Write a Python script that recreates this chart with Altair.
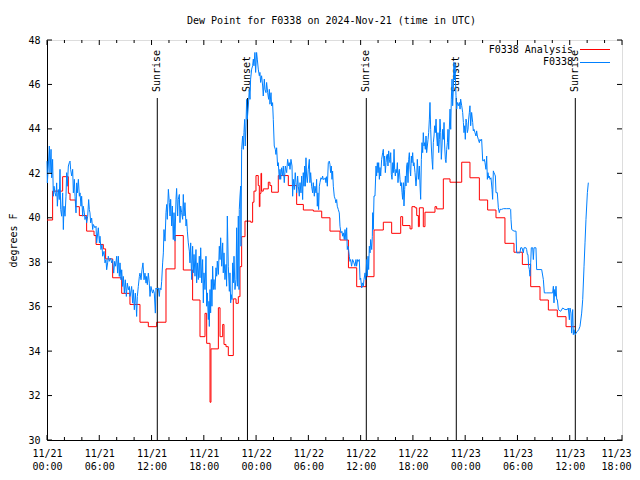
import altair as alt
import pandas as pd

# ---------------- data (dew point, degrees F) ----------------
# Times; READ_SCALE converts the
# read-off positions (taken with a 65.43-hour span) to hours since
# 2024-11-21 00:00 UTC on the reference's 66-hour axis.
READ_SCALE = 66.0 / 65.43

analysis_read = [0.00, 0.64, 1.78, 2.43, 2.62, 3.26, 3.68, 4.51, 5.35, 5.58, 6.41, 6.67, 7.47, 8.50, 9.44,
                 10.58, 11.53, 12.48, 13.54, 14.57, 15.51, 16.57, 17.41, 17.98, 18.17, 18.55, 18.66, 19.50,
                 19.69, 19.99, 20.14, 20.37, 20.63, 21.20, 21.51, 21.77, 21.96, 22.15, 22.53, 23.18, 23.40,
                 23.55, 23.78, 24.04, 24.16, 24.23, 24.35, 24.42, 24.61, 25.18, 25.37, 25.56, 26.32, 27.46,
                 28.41, 29.17, 30.31, 31.26, 32.20, 33.34, 34.30, 35.24, 36.30, 37.21, 38.27, 39.22, 40.25,
                 40.47, 41.31, 41.53, 41.88, 42.07, 42.26, 42.37, 42.82, 43.01, 44.15, 44.34, 45.10, 45.86,
                 46.62, 47.19, 48.13, 49.20, 50.14, 51.09, 52.11, 53.14, 54.09, 55.04, 56.10, 57.05, 58.07,
                 59.06, 60.12]
analysis_values = [39.9, 41.2, 41.85, 41.1, 40.8, 40.5, 40.1, 39.4, 39.2, 38.8, 38.6, 38.15, 37.3, 36.6, 36.1,
                   35.3, 35.1, 35.3, 37.7, 39.2, 37.65, 36.3, 34.65, 35.7, 34.35, 31.7, 34.1, 35.95,
                   34.65, 35.2, 34.3, 34.2, 33.8, 36.35, 36.15, 36.45, 37.8, 39.15, 39.85, 39.8, 40.7,
                   41.2, 41.9, 41.45, 40.5, 41.1, 42.0, 41.2, 41.3, 41.6, 41.45, 41.15, 41.9, 41.45,
                   40.6, 40.35, 40.3, 40.0, 39.4, 39.0, 37.75, 36.9, 37.35, 39.45, 39.8, 39.3, 40.05,
                   39.65, 39.5, 40.5, 40.45, 40.1, 39.6, 40.45, 39.6, 40.25, 40.5, 40.4, 41.75, 41.6,
                   41.6, 42.5, 41.8, 40.8, 40.35, 40.0, 38.85, 38.45, 37.9, 36.9, 36.3, 35.85, 35.55,
                   35.1, 35.1]

obs_points = [
    (0.00, 42.55), (0.04, 41.57), (0.15, 42.33), (0.27, 43.23), (0.34, 42.03), (0.46, 43.08), (0.53, 41.80),
    (0.64, 42.63), (0.72, 40.97), (0.80, 41.42), (0.91, 41.12), (1.02, 40.97), (1.10, 41.57), (1.18, 40.52),
    (1.29, 41.27), (1.40, 40.82), (1.48, 42.18), (1.56, 40.37), (1.67, 40.07), (1.78, 41.12), (1.86, 39.47),
    (1.93, 40.52), (2.05, 40.07), (2.16, 40.97), (2.24, 42.03), (2.31, 41.42), (2.43, 42.33), (2.54, 42.48),
    (2.62, 42.55), (2.69, 42.18), (2.81, 41.88), (2.92, 42.18), (3.00, 41.12), (3.11, 41.73), (3.19, 40.97),
    (3.30, 40.22), (3.38, 41.57), (3.45, 41.12), (3.57, 41.73), (3.68, 40.97), (3.76, 41.12), (3.87, 40.52),
    (3.94, 40.97), (4.06, 40.07), (4.13, 40.52), (4.25, 40.22), (4.32, 39.92), (4.44, 40.07), (4.51, 39.77),
    (4.63, 40.07), (4.74, 40.82), (4.82, 40.37), (4.89, 40.22), (4.97, 39.77), (5.08, 39.99), (5.20, 39.47),
    (5.27, 39.70), (5.46, 39.55), (5.58, 39.62), (5.65, 38.87), (5.84, 39.55), (5.96, 38.87), (6.03, 39.17),
    (6.14, 38.57), (6.26, 38.79), (6.33, 38.27), (6.49, 38.49), (6.60, 37.97), (6.71, 38.12), (6.79, 37.66),
    (6.90, 37.97), (6.98, 38.27), (7.09, 38.04), (7.24, 38.19), (7.36, 37.97), (7.47, 38.12), (7.59, 37.51),
    (7.70, 38.04), (7.81, 37.82), (7.93, 38.27), (8.04, 37.51), (8.12, 38.27), (8.23, 37.36), (8.31, 37.97),
    (8.42, 37.21), (8.50, 37.66), (8.61, 36.91), (8.69, 37.36), (8.80, 36.61), (8.91, 37.21), (9.03, 36.46),
    (9.14, 37.06), (9.26, 36.76), (9.37, 36.91), (9.44, 36.46), (9.52, 36.61), (9.63, 36.91), (9.75, 36.16),
    (9.82, 36.76), (9.94, 35.86), (10.05, 36.61), (10.13, 36.16), (10.20, 35.56), (10.28, 36.46), (10.39, 36.91),
    (10.51, 37.36), (10.58, 37.51), (10.70, 37.21), (10.81, 37.66), (10.92, 37.97), (11.04, 37.21), (11.15, 37.51),
    (11.27, 37.06), (11.34, 37.36), (11.42, 36.99), (11.53, 37.51), (11.64, 37.06), (11.72, 36.46), (11.83, 36.91),
    (11.95, 36.69), (12.02, 36.61), (12.10, 36.76), (12.21, 36.61), (12.33, 35.71), (12.40, 36.84), (12.48, 36.79),
    (12.67, 36.84), (12.78, 36.46), (12.86, 36.84), (12.97, 36.76),
    (13.05, 37.14), (13.16, 37.97), (13.24, 38.42), (13.31, 39.47), (13.43, 38.95), (13.54, 40.23), (13.62, 40.60),
    (13.69, 39.93), (13.81, 41.28), (13.92, 40.68), (14.00, 40.08), (14.07, 40.83), (14.19, 39.63), (14.26, 40.53),
    (14.37, 39.02), (14.45, 40.23), (14.56, 38.95), (14.68, 40.83), (14.75, 41.32), (14.87, 40.08), (14.94, 40.83),
    (15.06, 41.05), (15.13, 39.78), (15.21, 40.53), (15.32, 40.23), (15.44, 39.93), (15.51, 41.05), (15.59, 40.08),
    (15.70, 40.68), (15.82, 39.63), (15.89, 39.93), (15.97, 39.40), (16.08, 38.87), (16.20, 38.50), (16.27, 37.97),
    (16.35, 38.87), (16.46, 37.22), (16.57, 38.72), (16.65, 37.52), (16.73, 38.35), (16.84, 37.37), (16.95, 38.57),
    (17.03, 37.07), (17.11, 37.97), (17.22, 37.22), (17.33, 38.27), (17.41, 37.30), (17.49, 38.65), (17.60, 37.07),
    (17.71, 38.12), (17.79, 36.17), (17.86, 37.52), (17.98, 36.77), (18.09, 38.27), (18.17, 36.02), (18.24, 36.62),
    (18.36, 35.42), (18.43, 36.24), (18.47, 35.11), (18.55, 36.77), (18.62, 35.72), (18.70, 37.22), (18.77, 36.02),
    (18.85, 37.82), (18.93, 36.77), (19.00, 37.22), (19.12, 36.77), (19.23, 37.75), (19.31, 37.37), (19.38, 38.05),
    (19.50, 37.45), (19.61, 38.72), (19.69, 38.12), (19.76, 39.10), (19.88, 37.82), (19.99, 38.87), (20.06, 37.52),
    (20.14, 38.42), (20.25, 37.22), (20.37, 37.90), (20.44, 36.92), (20.52, 40.08), (20.63, 37.82), (20.75, 36.69),
    (20.82, 37.52), (20.90, 36.17), (20.97, 36.54), (21.05, 36.32), (21.13, 37.97), (21.20, 37.07), (21.28, 38.27),
    (21.39, 36.77), (21.51, 37.22), (21.58, 39.55), (21.66, 36.92), (21.77, 40.08), (21.85, 36.77), (21.88, 40.38),
    (21.96, 40.98), (22.04, 41.43),
    (22.07, 38.72), (22.15, 43.08), (22.26, 43.68), (22.34, 43.08), (22.41, 43.83), (22.49, 44.43), (22.56, 43.23),
    (22.64, 44.13), (22.72, 45.33), (22.79, 44.43), (22.91, 45.03), (23.02, 45.78), (23.10, 45.33), (23.17, 46.24),
    (23.29, 46.69), (23.40, 46.84), (23.48, 47.14), (23.55, 46.84), (23.66, 47.44), (23.74, 46.54), (23.85, 47.44),
    (23.93, 47.14), (24.04, 46.69), (24.16, 46.39), (24.23, 46.54), (24.31, 46.09), (24.42, 46.39), (24.54, 45.93),
    (24.61, 45.48), (24.73, 46.24), (24.80, 45.78), (24.92, 45.63), (24.99, 46.09), (25.11, 45.63), (25.22, 45.33),
    (25.30, 45.78), (25.37, 45.11), (25.49, 45.63), (25.56, 45.03), (25.67, 45.18), (25.75, 44.43), (25.86, 43.23),
    (25.98, 43.08), (26.05, 42.85), (26.13, 43.15), (26.24, 42.33), (26.32, 42.48), (26.43, 41.73), (26.51, 42.18),
    (26.59, 41.73), (26.70, 42.25), (26.81, 41.88), (26.89, 42.33), (27.00, 41.58), (27.12, 42.33), (27.27, 42.03),
    (27.38, 42.63), (27.50, 42.33), (27.57, 42.48), (27.65, 42.18), (27.76, 42.63), (27.88, 42.33), (27.95, 40.97),
    (28.03, 41.73), (28.14, 41.27), (28.25, 42.03), (28.33, 41.58), (28.41, 41.12), (28.52, 41.88), (28.60, 41.42),
    (28.71, 40.97), (28.79, 41.58), (28.90, 41.12), (28.98, 41.88), (29.09, 40.82), (29.16, 42.03), (29.24, 41.42),
    (29.32, 42.33), (29.39, 41.42), (29.47, 42.70), (29.54, 41.88), (29.62, 41.58), (29.73, 42.18), (29.85, 42.63),
    (29.92, 41.58), (30.00, 42.03), (30.11, 41.42), (30.23, 41.12), (30.30, 41.58), (30.42, 40.97), (30.49, 41.42),
    (30.61, 41.12), (30.68, 41.73), (30.76, 40.52), (30.83, 41.12), (30.91, 40.37), (30.99, 41.42), (31.06, 41.58),
    (31.17, 41.80), (31.29, 41.73), (31.36, 41.88), (31.44, 41.73), (31.55, 41.73), (31.67, 41.80), (31.74, 41.58),
    (31.82, 41.85), (31.90, 41.42), (32.01, 42.48), (32.12, 42.55), (32.20, 42.40), (32.27, 42.03), (32.35, 42.33),
    (32.43, 41.73), (32.50, 42.10), (32.58, 41.42), (32.69, 40.97), (32.81, 40.82), (32.88, 40.67), (32.96, 40.82),
    (33.03, 40.52), (33.15, 40.37), (33.26, 40.22), (33.34, 39.62), (33.45, 39.32), (33.56, 39.39), (33.64, 39.17),
    (33.72, 39.32), (33.83, 39.02), (33.91, 39.47), (34.02, 39.02), (34.10, 39.55), (34.17, 38.57), (34.25, 38.72),
    (34.32, 38.57), (34.40, 38.27), (34.47, 38.04), (34.55, 38.12), (34.66, 37.82), (34.78, 38.12), (34.93, 37.97),
    (35.04, 37.82), (35.16, 38.12), (35.23, 37.82), (35.35, 38.12), (35.42, 38.04), (35.54, 38.12),
    (35.62, 37.22), (35.69, 37.29), (35.81, 36.84), (35.88, 37.07), (36.00, 36.92), (36.07, 37.22), (36.19, 37.52),
    (36.26, 37.22), (36.38, 38.12), (36.45, 37.37), (36.53, 38.27), (36.60, 37.67), (36.68, 38.72), (36.76, 38.42),
    (36.83, 39.02), (36.95, 38.57), (37.02, 39.17), (37.06, 40.23), (37.13, 39.47), (37.21, 40.98), (37.32, 40.98),
    (37.44, 42.33), (37.51, 41.88), (37.59, 42.48), (37.67, 42.03), (37.74, 42.48), (37.82, 41.73), (37.89, 42.26),
    (37.97, 41.88), (38.08, 42.63), (38.20, 42.93), (38.27, 43.08), (38.35, 42.33), (38.42, 42.78), (38.50, 42.03),
    (38.58, 42.48), (38.65, 42.78), (38.73, 42.86), (38.80, 42.33), (38.88, 43.01), (38.96, 42.63), (39.03, 42.48),
    (39.11, 42.93), (39.18, 41.96), (39.26, 41.73), (39.34, 42.48), (39.41, 42.03), (39.49, 43.08), (39.56, 42.18),
    (39.64, 41.88), (39.71, 42.18), (39.79, 42.03), (39.87, 42.48), (39.94, 41.58), (40.02, 42.03), (40.09, 42.18),
    (40.17, 41.73), (40.25, 41.43), (40.32, 41.58), (40.40, 41.13), (40.47, 40.83), (40.55, 41.58), (40.62, 40.53),
    (40.70, 41.28), (40.78, 41.88), (40.85, 41.43), (40.93, 42.33), (41.00, 42.48), (41.08, 41.58), (41.16, 42.63),
    (41.23, 42.93), (41.31, 42.18), (41.38, 41.88), (41.46, 42.78), (41.53, 42.48), (41.61, 42.93), (41.69, 42.33),
    (41.76, 42.48), (41.88, 42.03), (41.99, 41.43), (42.07, 41.88), (42.14, 42.63), (42.26, 41.73), (42.37, 42.33),
    (42.45, 41.43), (42.52, 40.83), (42.60, 42.63), (42.67, 43.38), (42.75, 42.93), (42.82, 43.83), (42.90, 43.23),
    (42.98, 43.38), (43.05, 43.08), (43.13, 43.68), (43.20, 42.93), (43.28, 43.23), (43.36, 43.53), (43.43, 43.83),
    (43.51, 44.44), (43.58, 45.19), (43.66, 43.98), (43.73, 43.23), (43.81, 42.63), (43.89, 42.18), (43.96, 43.38),
    (44.04, 43.68), (44.11, 44.14), (44.19, 43.83), (44.27, 44.44), (44.34, 43.68), (44.42, 43.23), (44.49, 43.83),
    (44.57, 42.93), (44.65, 43.53), (44.72, 44.44), (44.80, 43.83), (44.87, 42.63), (44.95, 43.23), (45.02, 43.98),
    (45.10, 43.53), (45.18, 44.29), (45.25, 43.23), (45.33, 42.63), (45.40, 42.48), (45.48, 43.08), (45.56, 43.38),
    (45.63, 43.98), (45.71, 43.08), (45.78, 43.98), (45.86, 44.89), (45.94, 43.98), (46.01, 45.34), (46.09, 46.24),
    (46.16, 45.04), (46.24, 45.79), (46.31, 47.00), (46.37, 46.20), (46.43, 46.90), (46.54, 45.49),
    (46.62, 44.89), (46.69, 45.19), (46.81, 45.04), (46.92, 45.19), (47.00, 44.89), (47.07, 45.34), (47.19, 45.04),
    (47.30, 44.74), (47.38, 44.29), (47.45, 43.83), (47.53, 44.14), (47.60, 43.53), (47.68, 44.44), (47.75, 44.29),
    (47.83, 43.83), (47.91, 43.98), (47.98, 44.44), (48.06, 44.74), (48.13, 45.04), (48.21, 44.14), (48.32, 44.74),
    (48.44, 44.29), (48.51, 43.91), (48.59, 43.98), (48.70, 43.83), (48.82, 43.68), (48.89, 43.91), (48.97, 43.68),
    (49.08, 43.53), (49.20, 43.38), (49.27, 43.53), (49.35, 43.46), (49.46, 43.53), (49.58, 42.56), (49.65, 42.56),
    (49.76, 42.63), (49.84, 42.48), (49.95, 42.18), (50.03, 42.78), (50.11, 41.73), (50.18, 42.03), (50.26, 41.80),
    (50.33, 41.88), (50.41, 41.73), (50.52, 41.80), (50.64, 41.28), (50.71, 40.83), (50.79, 42.11), (50.86, 42.03),
    (50.94, 41.96), (51.02, 41.88), (51.09, 41.13), (51.24, 41.13), (51.36, 40.45), (51.47, 40.23), (51.55, 40.38),
    (51.74, 40.38), (51.93, 40.41), (52.31, 40.41), (52.69, 40.41), (52.76, 40.38), (52.80, 39.93), (52.88, 39.47),
    (53.14, 39.40), (53.37, 39.40), (53.44, 38.42), (53.63, 38.42), (53.82, 38.42), (53.90, 38.65), (54.05, 38.65),
    (54.20, 38.42), (54.28, 38.65), (54.51, 38.65), (54.58, 38.57), (54.66, 38.35), (54.73, 38.35), (54.81, 37.82),
    (54.89, 37.67), (54.96, 37.37), (55.04, 37.97), (55.11, 38.65), (55.27, 38.65), (55.34, 38.12), (55.42, 38.65),
    (55.64, 38.65), (55.72, 37.67), (56.10, 37.67), (56.29, 37.67), (56.48, 37.22), (56.59, 36.62), (56.86, 36.62),
    (57.24, 36.62), (57.54, 36.62), (57.62, 36.92), (57.69, 36.17), (57.77, 36.77), (57.84, 36.47), (57.92, 36.92),
    (58.00, 36.32), (58.07, 36.32), (58.19, 35.87), (58.45, 35.79), (58.68, 35.94), (58.94, 35.87), (59.21, 35.87),
    (59.32, 35.94), (59.44, 35.41), (59.51, 35.94), (59.63, 35.71), (59.70, 34.81), (59.82, 35.87), (59.89, 34.74),
    (59.97, 34.96), (60.04, 34.81), (60.12, 34.74), (60.20, 34.81), (60.35, 34.89), (60.50, 34.96), (60.65, 35.11),
    (60.84, 35.71), (60.96, 36.32), (61.11, 37.82), (61.22, 38.87), (61.33, 39.93), (61.49, 41.13), (61.60, 41.58),
]

analysis_hours = [h * READ_SCALE for h in analysis_read]
obs_hours = [p[0] * READ_SCALE for p in obs_points]
obs_values = [p[1] for p in obs_points]

event_hours = [12.66, 23.01, 36.65, 46.98, 60.64]
event_names = ["Sunrise", "Sunset", "Sunrise", "Sunset", "Sunrise"]

x_major = list(range(0, 67, 6))
x_minor = [h for h in range(0, 67, 2) if h % 6 != 0]
y_major = list(range(30, 49, 2))

# ---------------- chart ----------------
W, H = 575, 400
FONT = "DejaVu Sans Mono"
xs = alt.Scale(domain=[0, 66], nice=False, zero=False)
ys = alt.Scale(domain=[30, 48], nice=False, zero=False)

red_df = pd.DataFrame({"h": analysis_hours, "v": analysis_values})
blue_df = pd.DataFrame({"h": obs_hours, "v": obs_values})
ev_df = pd.DataFrame({"h": event_hours, "name": event_names})

label_expr = ("['11/' + (21 + floor(datum.value / 24)), "
              "((datum.value % 24) < 10 ? '0' : '') + (datum.value % 24) + ':00']")

x_axis = alt.Axis(values=x_major, labelExpr=label_expr, ticks=False, grid=False, title=None,
                  labelFont=FONT, labelFontSize=10, labelColor="black", labelPadding=8,
                  labelLineHeight=13.5, labelAngle=0, domainColor="black", labelFlush=False,
                  labelOverlap=False,
                  labelOffset={"condition": {"test": "datum.value >= 66", "value": -6}, "value": 0})
y_axis = alt.Axis(values=y_major, ticks=False, grid=False, title="degrees F",
                  labelFont=FONT, labelFontSize=10, labelColor="black", labelPadding=7,
                  domainColor="black", titleFont=FONT, titleFontSize=10, titleFontWeight="normal",
                  titleColor="black", titleAngle=270, titleX=-34, titleY=H / 2,
                  titleAlign="center", titleBaseline="middle", labelFlush=False)

X = alt.X("h:Q", scale=xs, axis=x_axis)
Y = alt.Y("v:Q", scale=ys, axis=y_axis)

red = alt.Chart(red_df).mark_line(color="#ff0000", strokeWidth=1, interpolate="step-after").encode(x=X, y=Y)
blue = alt.Chart(blue_df).mark_line(color="#0080ff", strokeWidth=1).encode(x=X, y=Y)

ev_rules = alt.Chart(ev_df).mark_rule(color="black", strokeWidth=1).encode(
    x=X, y=alt.value(58), y2=alt.value(H))
ev_text = alt.Chart(ev_df).mark_text(angle=270, align="left", baseline="middle", font=FONT,
                                     fontSize=10, color="black").encode(
    x=X, y=alt.value(52), text="name:N")

xmaj_df = pd.DataFrame({"h": x_major})
xmin_df = pd.DataFrame({"h": x_minor})
ymaj_df = pd.DataFrame({"v": y_major})
tick = dict(color="black", strokeWidth=1)
ticks = [
    alt.Chart(xmaj_df).mark_rule(**tick).encode(x=X, y=alt.value(H), y2=alt.value(H - 5)),
    alt.Chart(xmaj_df).mark_rule(**tick).encode(x=X, y=alt.value(0), y2=alt.value(5)),
    alt.Chart(xmin_df).mark_rule(**tick).encode(x=X, y=alt.value(H), y2=alt.value(H - 3)),
    alt.Chart(xmin_df).mark_rule(**tick).encode(x=X, y=alt.value(0), y2=alt.value(3)),
    alt.Chart(ymaj_df).mark_rule(**tick).encode(y=Y, x=alt.value(0), x2=alt.value(5)),
    alt.Chart(ymaj_df).mark_rule(**tick).encode(y=Y, x=alt.value(W), x2=alt.value(W - 5)),
]

leg_df = pd.DataFrame({"k": [0]})
legend = [
    alt.Chart(leg_df).mark_text(align="right", baseline="middle", font=FONT, fontSize=10,
                                color="black", text="F0338 Analysis").encode(
        x=alt.value(526), y=alt.value(9.5)),
    alt.Chart(leg_df).mark_text(align="right", baseline="middle", font=FONT, fontSize=10,
                                color="black", text="F0338").encode(
        x=alt.value(526), y=alt.value(22)),
    alt.Chart(leg_df).mark_rule(color="#ff0000", strokeWidth=1).encode(
        x=alt.value(533), x2=alt.value(563), y=alt.value(9.5)),
    alt.Chart(leg_df).mark_rule(color="#0080ff", strokeWidth=1).encode(
        x=alt.value(533), x2=alt.value(563), y=alt.value(22.5)),
]

chart = alt.layer(red, ev_rules, ev_text, blue, *ticks, *legend).properties(
    width=W, height=H,
    title=alt.TitleParams("Dew Point for F0338 on 2024-Nov-21 (time in UTC)", font=FONT, fontSize=10,
                          fontWeight="normal", color="black", anchor="middle", offset=9, dx=-3),
    autosize=alt.AutoSizeParams(type="none"),
    padding={"left": 39, "top": 32, "right": 10, "bottom": 32},
).configure_view(stroke="black", strokeWidth=1).configure(background="white")

chart.save("out.html", embed_options={"renderer": "svg", "actions": False})
